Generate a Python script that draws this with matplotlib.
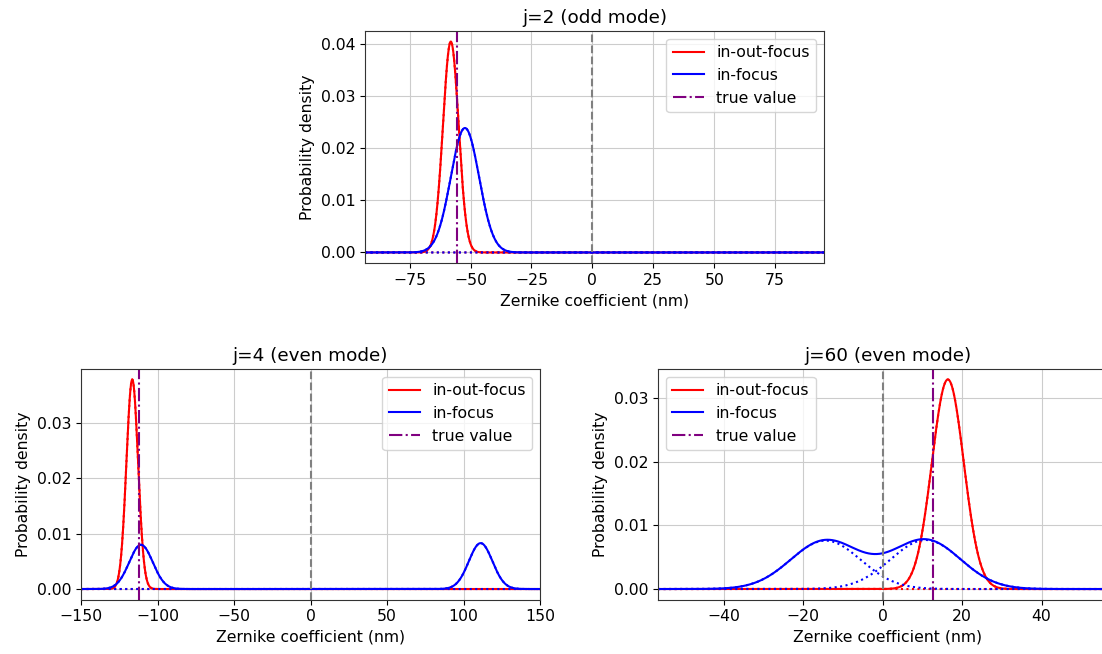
import numpy as np
import matplotlib
matplotlib.use("Agg")
import matplotlib.pyplot as plt

# panel data
titles = ["j=2 (odd mode)", "j=4 (even mode)", "j=60 (even mode)"]
true_vals = [-55.5, -112.1, 12.6]
xlims = [(-93.3, 95.0), (-150, 150), (-56.6, 59.0)]
legend_locs = ["upper right", "upper right", "upper left"]

# two-component gaussian fits: means, peak heights, widths (nm)
red_mu = [[-58.1, 58.1], [-116.5, 116.5], [16.4, -16.4]]
red_amp = [[0.0405, 0.0], [0.0379, 0.0], [0.0329, 0.0]]
red_sig = [3.2, 3.8, 4.0]
blue_mu = [[-52.3, 52.3], [-110.8, 111.2], [-14.4, 10.8]]
blue_amp = [[0.0239, 0.0], [0.0080, 0.0083], [0.0076, 0.0077]]
blue_sig = [5.8, 7.7, 8.8]

plt.rcParams['font.size'] = 11.25
plt.rcParams['grid.color'] = '#cccccc'
plt.rcParams['axes.edgecolor'] = '#333333'

fig = plt.figure(figsize=(11.02, 6.54), dpi=100)
W, H = 1102, 654
# axes boxes in pixels: left, top, right, bottom
boxes = [(365, 31, 824, 263), (81, 369, 540, 599.5), (658, 369, 1117, 599.5)]


def comp(x, mu, amp, sig):
    return amp * np.exp(-(x - mu) ** 2 / (2 * sig ** 2))


for k in range(3):
    l, t, r, b = boxes[k]
    ax = fig.add_axes([l / W, 1 - b / H, (r - l) / W, (b - t) / H])
    x = np.linspace(xlims[k][0], xlims[k][1], 2000)

    rc = [comp(x, m, a, red_sig[k]) for m, a in zip(red_mu[k], red_amp[k])]
    bc = [comp(x, m, a, blue_sig[k]) for m, a in zip(blue_mu[k], blue_amp[k])]

    ax.plot(x, rc[0] + rc[1], color="red", lw=1.5, label="in-out-focus")
    for c in rc:
        ax.plot(x, c, color="red", lw=1.5, ls=":")
    ax.plot(x, bc[0] + bc[1], color="blue", lw=1.5, label="in-focus")
    for c in bc:
        ax.plot(x, c, color="blue", lw=1.5, ls=":")

    ax.axvline(0, color="gray", ls="--", lw=1.5)
    ax.axvline(true_vals[k], color="purple", ls="-.", lw=1.5, label="true value")

    ax.set_xlim(*xlims[k])
    ax.grid(True)
    ax.set_title(titles[k], fontsize=13.2)
    ax.set_xlabel("Zernike coefficient (nm)")
    ax.set_ylabel("Probability density")
    ax.legend(loc=legend_locs[k])

fig.savefig("out.png", dpi=100)
